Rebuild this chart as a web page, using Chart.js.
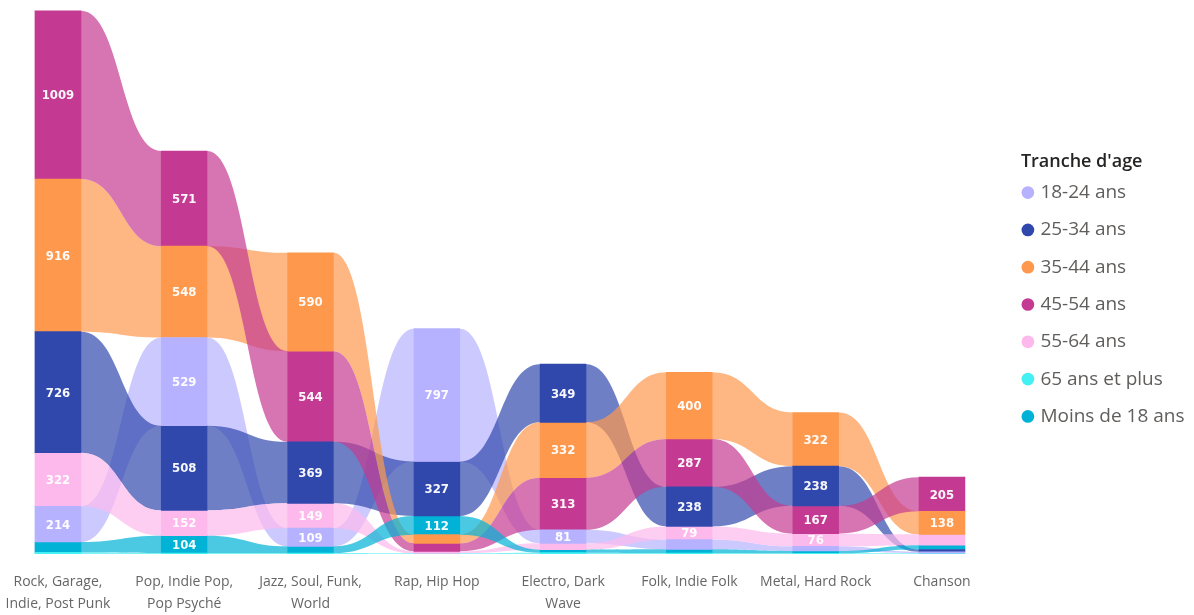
<!DOCTYPE html>
<html><head><meta charset="utf-8">
<script src="https://cdn.jsdelivr.net/npm/chart.js@4/dist/chart.umd.min.js"></script>
<style>html,body{margin:0;padding:0;background:#fff;overflow:hidden;}#wrap{position:relative;width:1194px;height:615px;}</style>
</head><body><div id="wrap"><canvas id="c"></canvas></div>
<script>
const categories = [["Rock, Garage,","Indie, Post Punk"],["Pop, Indie Pop,","Pop Psyché"],["Jazz, Soul, Funk,","World"],["Rap, Hip Hop"],["Electro, Dark","Wave"],["Folk, Indie Folk"],["Metal, Hard Rock"],["Chanson"]];
const seriesNames = ["18-24 ans","25-34 ans","35-44 ans","45-54 ans","55-64 ans","65 ans et plus","Moins de 18 ans"];
const v18_24   = [214, 529, 109, 797, 81, 58, 28, 8];
const v25_34   = [726, 508, 369, 327, 349, 238, 238, 14];
const v35_44   = [916, 548, 590, 52, 332, 400, 322, 138];
const v45_54   = [1009, 571, 544, 48, 313, 287, 167, 205];
const v55_64   = [322, 152, 149, 12, 38, 79, 76, 65];
const v65plus  = [10, 6, 6, 4, 8, 6, 4, 5];
const vMoins18 = [62, 104, 40, 112, 18, 22, 14, 26];
const seriesColors = [[183,178,255],[48,72,172],[253,152,77],[196,58,146],[254,185,236],[68,240,242],[0,178,214]];
const legendTitle = "Tranche d'age";

const seriesValues = [v18_24, v25_34, v35_44, v45_54, v55_64, v65plus, vMoins18];
// ribbon ranking: largest on top at each category
const ranges = seriesValues.map(() => []);
categories.forEach((c, i) => {
  const order = seriesValues.map((v, s) => s).sort((a, b) => seriesValues[a][i] - seriesValues[b][i]);
  let acc = 0;
  order.forEach(s => { const v = seriesValues[s][i]; ranges[s][i] = [acc, acc + v]; acc += v; });
});
const rgb = (c, a) => `rgba(${c[0]},${c[1]},${c[2]},${a})`;
const FONT = "'Segoe UI','Open Sans','Noto Sans',sans-serif";

const ribbonPlugin = {
  id: 'ribbons',
  beforeDatasetsDraw(chart) {
    const ctx = chart.ctx;
    ctx.save();
    chart.data.datasets.forEach((ds, s) => {
      const els = chart.getDatasetMeta(s).data;
      ctx.fillStyle = ds.ribbonColor;
      for (let i = 0; i < els.length - 1; i++) {
        const a = els[i].getProps(['x','y','base','width'], true);
        const b = els[i+1].getProps(['x','y','base','width'], true);
        const x1 = a.x + a.width/2, x2 = b.x - b.width/2, xm = (x1 + x2)/2;
        const t1 = Math.min(a.y, a.base), b1 = Math.max(a.y, a.base);
        const t2 = Math.min(b.y, b.base), b2 = Math.max(b.y, b.base);
        ctx.beginPath();
        ctx.moveTo(x1, t1);
        ctx.bezierCurveTo(xm, t1, xm, t2, x2, t2);
        ctx.lineTo(x2, b2);
        ctx.bezierCurveTo(xm, b2, xm, b1, x1, b1);
        ctx.closePath();
        ctx.fill();
      }
    });
    ctx.restore();
  },
  afterDatasetsDraw(chart) {
    const ctx = chart.ctx;
    ctx.save();
    ctx.font = "bold 13px 'DejaVu Sans Condensed','DejaVu Sans',sans-serif";
    try { ctx.fontStretch = 'condensed'; } catch (e) {}
    ctx.fillStyle = 'rgba(255,255,255,0.96)';
    ctx.textAlign = 'center';
    ctx.textBaseline = 'middle';
    chart.data.datasets.forEach((ds, s) => {
      chart.getDatasetMeta(s).data.forEach((el, i) => {
        const p = el.getProps(['x','y','base'], true);
        if (Math.abs(p.base - p.y) >= 12) ctx.fillText(String(seriesValues[s][i]), p.x, (p.y + p.base)/2 + 1);
      });
    });
    ctx.restore();
  },
  afterDraw(chart) {
    const lg = chart.legend;
    if (!lg || !lg.legendHitBoxes || !lg.legendHitBoxes.length) return;
    const hb = lg.legendHitBoxes[0];
    const ctx = chart.ctx;
    ctx.save();
    ctx.font = "600 18px " + FONT;
    ctx.fillStyle = '#252423';
    ctx.textAlign = 'left';
    ctx.textBaseline = 'middle';
    ctx.fillText(legendTitle, hb.left - 4, hb.top + 9.5 - 31);
    ctx.restore();
  }
};

new Chart(document.getElementById('c'), {
  type: 'bar',
  data: {
    datasets: seriesNames.map((name, s) => ({
      label: name,
      data: categories.map((c, i) => ({ x: i, y: ranges[s][i] })),
      backgroundColor: rgb(seriesColors[s], 1),
      borderColor: rgb(seriesColors[s], 1),
      borderWidth: 0,
      ribbonColor: rgb(seriesColors[s], 0.7),
      barThickness: 46,
      grouped: false
    }))
  },
  options: {
    responsive: true,
    maintainAspectRatio: false,
    animation: false,
    layout: { padding: { left: 0, right: -0.5, top: -6, bottom: 0 } },
    scales: {
      x: {
        type: 'linear', offset: false, min: -0.459, max: 7.512,
        grid: { display: false, drawTicks: false, offset: false },
        border: { display: false },
        afterBuildTicks: sc => { sc.ticks = categories.map((c, i) => ({ value: i })); },
        afterFit: sc => { sc.height = 61; sc.paddingLeft = 0; sc.paddingRight = 0; },
        ticks: {
          autoSkip: false, maxRotation: 0, minRotation: 0, padding: 17,
          color: '#666666',
          font: { family: FONT, size: 14, lineHeight: '22px' },
          callback: v => categories[v]
        }
      },
      y: { display: false, min: 0, max: 3324 }
    },
    plugins: {
      tooltip: { enabled: false },
      legend: {
        position: 'right', align: 'center',
        labels: {
          usePointStyle: true, pointStyle: 'circle', boxWidth: 6, boxHeight: 9,
          padding: 18.3, color: '#605E5C',
          font: { family: FONT, size: 19 }
        }
      }
    }
  },
  plugins: [ribbonPlugin]
});
</script>
</body></html>
